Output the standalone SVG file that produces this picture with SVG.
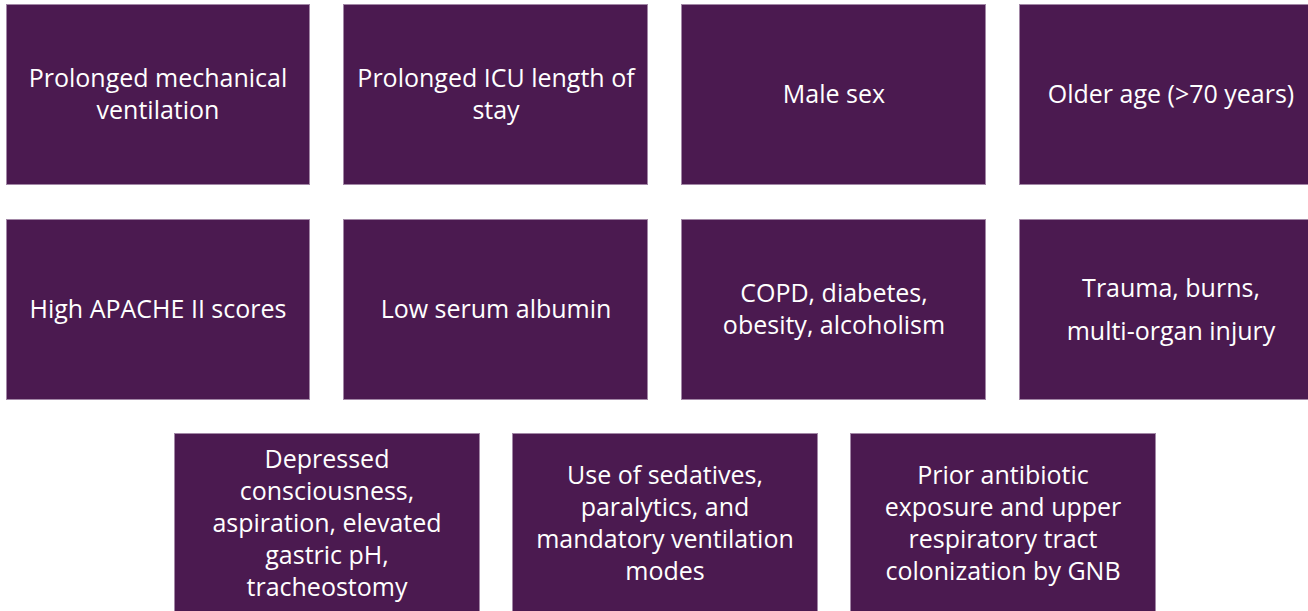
<svg xmlns="http://www.w3.org/2000/svg" width="1308" height="611" viewBox="0 0 1308 611">
<style>
.box{fill:#4b1a50;stroke:#a287a6;stroke-width:1}
.t{font-family:"Open Sans","Noto Sans","Liberation Sans",sans-serif;font-size:25px;fill:#ffffff;text-anchor:middle}
</style>
<rect width="1308" height="611" fill="#ffffff"/>
<g id="connectors"></g>
<g id="n1"><rect class="box" x="6.5" y="4.5" width="303" height="180"/>
<text class="t" x="158" y="87">Prolonged mechanical</text><text class="t" x="158" y="119">ventilation</text></g>
<g id="n2"><rect class="box" x="343.5" y="4.5" width="304" height="180"/>
<text class="t" x="496" y="87">Prolonged ICU length of</text><text class="t" x="496" y="119">stay</text></g>
<g id="n3"><rect class="box" x="681.5" y="4.5" width="304" height="180"/>
<text class="t" x="834" y="103">Male sex</text></g>
<g id="n4"><rect class="box" x="1019.5" y="4.5" width="304" height="180"/>
<text class="t" x="1171" y="103">Older age (&gt;70 years)</text></g>
<g id="n5"><rect class="box" x="6.5" y="219.5" width="303" height="180"/>
<text class="t" x="158" y="318">High APACHE II scores</text></g>
<g id="n6"><rect class="box" x="343.5" y="219.5" width="304" height="180"/>
<text class="t" x="496" y="318">Low serum albumin</text></g>
<g id="n7"><rect class="box" x="681.5" y="219.5" width="304" height="180"/>
<text class="t" x="834" y="302">COPD, diabetes,</text><text class="t" x="834" y="334">obesity, alcoholism</text></g>
<g id="n8"><rect class="box" x="1019.5" y="219.5" width="304" height="180"/>
<text class="t" x="1171" y="297">Trauma, burns,</text><text class="t" x="1171" y="340">multi-organ injury</text></g>
<g id="n9"><rect class="box" x="174.5" y="433.5" width="305" height="181"/>
<text class="t" x="327" y="468">Depressed</text><text class="t" x="327" y="500">consciousness,</text><text class="t" x="327" y="532">aspiration, elevated</text><text class="t" x="327" y="564">gastric pH,</text><text class="t" x="327" y="596">tracheostomy</text></g>
<g id="n10"><rect class="box" x="512.5" y="433.5" width="305" height="181"/>
<text class="t" x="665" y="484">Use of sedatives,</text><text class="t" x="665" y="516">paralytics, and</text><text class="t" x="665" y="548">mandatory ventilation</text><text class="t" x="665" y="580">modes</text></g>
<g id="n11"><rect class="box" x="850.5" y="433.5" width="305" height="181"/>
<text class="t" x="1003" y="484">Prior antibiotic</text><text class="t" x="1003" y="516">exposure and upper</text><text class="t" x="1003" y="548">respiratory tract</text><text class="t" x="1003" y="580">colonization by GNB</text></g>
</svg>
